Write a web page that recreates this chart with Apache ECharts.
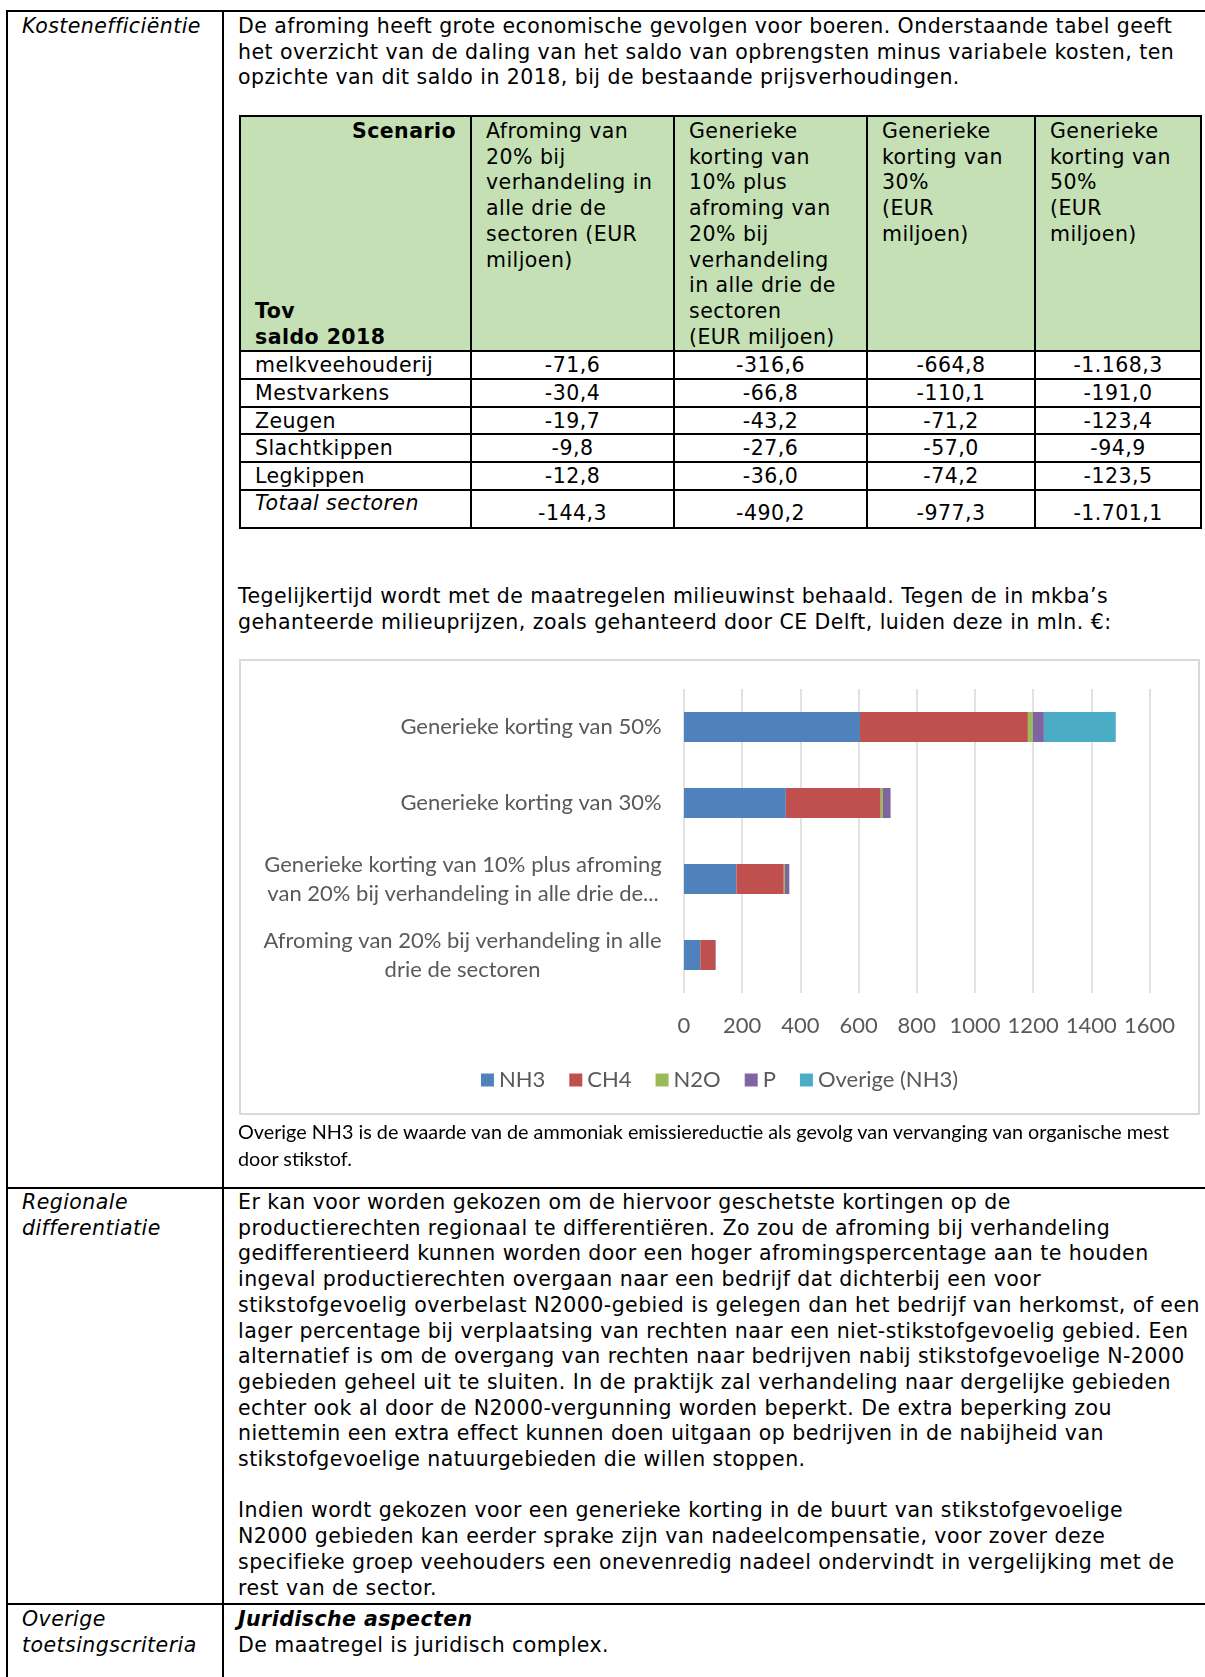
<!DOCTYPE html>
<html>
<head>
<meta charset="utf-8">
<script src="https://cdn.jsdelivr.net/npm/echarts@6/dist/echarts.min.js"></script>
<style>
  body { margin: 0; background: #fff; }
  #page { position: relative; width: 1205px; height: 1677px; overflow: hidden;
          font-family: "DejaVu Sans", Verdana, sans-serif; font-size: 20.5px; letter-spacing: 0.45px;
          line-height: 25.7px; color: #000; }
  .txt { position: absolute; white-space: pre; }
  .hl { position: absolute; height: 2px; background: #000; }
  .vl { position: absolute; width: 2px; background: #000; }
  #tbl { position: absolute; left: 239px; top: 115px; border-collapse: collapse; table-layout: fixed; }
  #tbl td { border: 2px solid #000; padding: 0 14px; vertical-align: top; white-space: pre; }
  #tbl tr.head td { background: #c5e0b4; height: 231px; padding-top: 2px; }
  #tbl tr.row td { height: 24.7px; line-height: 24.7px; vertical-align: middle; padding-top: 1px; }
  #tbl tr.tot td { height: 36px; }
  #tbl td.num { text-align: center; padding-left: 0; padding-right: 0; }
  #chartBox { position: absolute; left: 239px; top: 659px; width: 961px; height: 456px; letter-spacing: 0; }
  #chartFrame { position: absolute; left: 239px; top: 659px; width: 961px; height: 456px;
                box-sizing: border-box; border: 2px solid #d9d9d9; pointer-events: none; }
  .cap { position: absolute; white-space: pre; font-family: Lato, sans-serif; font-size: 19.8px;
         letter-spacing: 0; line-height: 27px; }
</style>
</head>
<body>
<div id="page">
  <div class="hl" style="left:6px; top:10px; width:1199px;"></div>
  <div class="hl" style="left:6px; top:1187px; width:1199px;"></div>
  <div class="hl" style="left:6px; top:1603px; width:1199px;"></div>
  <div class="vl" style="left:6px; top:10px; height:1667px;"></div>
  <div class="vl" style="left:222px; top:10px; height:1667px;"></div>

  <div class="txt" style="left:22px; top:14px; font-style:italic;">Kostenefficiëntie</div>
  <div class="txt" style="left:238px; top:14px;">De afroming heeft grote economische gevolgen voor boeren. Onderstaande tabel geeft
het overzicht van de daling van het saldo van opbrengsten minus variabele kosten, ten
opzichte van dit saldo in 2018, bij de bestaande prijsverhoudingen.</div>

  <table id="tbl">
    <colgroup><col style="width:231px"><col style="width:203px"><col style="width:193px"><col style="width:168px"><col style="width:166px"></colgroup>
    <tbody id="tbody"></tbody>
  </table>

  <div class="txt" style="left:238px; top:584px;">Tegelijkertijd wordt met de maatregelen milieuwinst behaald. Tegen de in mkba’s
gehanteerde milieuprijzen, zoals gehanteerd door CE Delft, luiden deze in mln. €:</div>

  <div id="chartBox"></div>
  <div id="chartFrame"></div>

  <div class="cap" style="left:238px; top:1118px;">Overige NH3 is de waarde van de ammoniak emissiereductie als gevolg van vervanging van organische mest
door stikstof.</div>

  <div class="txt" style="left:22px; top:1190px; font-style:italic;">Regionale
differentiatie</div>
  <div class="txt" style="left:238px; top:1190px;">Er kan voor worden gekozen om de hiervoor geschetste kortingen op de
productierechten regionaal te differentiëren. Zo zou de afroming bij verhandeling
gedifferentieerd kunnen worden door een hoger afromingspercentage aan te houden
ingeval productierechten overgaan naar een bedrijf dat dichterbij een voor
stikstofgevoelig overbelast N2000-gebied is gelegen dan het bedrijf van herkomst, of een
lager percentage bij verplaatsing van rechten naar een niet-stikstofgevoelig gebied. Een
alternatief is om de overgang van rechten naar bedrijven nabij stikstofgevoelige N-2000
gebieden geheel uit te sluiten. In de praktijk zal verhandeling naar dergelijke gebieden
echter ook al door de N2000-vergunning worden beperkt. De extra beperking zou
niettemin een extra effect kunnen doen uitgaan op bedrijven in de nabijheid van
stikstofgevoelige natuurgebieden die willen stoppen.

Indien wordt gekozen voor een generieke korting in de buurt van stikstofgevoelige
N2000 gebieden kan eerder sprake zijn van nadeelcompensatie, voor zover deze
specifieke groep veehouders een onevenredig nadeel ondervindt in vergelijking met de
rest van de sector.</div>

  <div class="txt" style="left:22px; top:1607px; font-style:italic;">Overige
toetsingscriteria</div>
  <div class="txt" style="left:238px; top:1607px;"><b><i>Juridische aspecten</i></b>
De maatregel is juridisch complex.</div>
</div>

<script>
// tabel: daling saldo tov 2018 (EUR miljoen)
const scenarioHeads = [
  'Afroming van\n20% bij\nverhandeling in\nalle drie de\nsectoren (EUR\nmiljoen)',
  'Generieke\nkorting van\n10% plus\nafroming van\n20% bij\nverhandeling\nin alle drie de\nsectoren\n(EUR miljoen)',
  'Generieke\nkorting van\n30%\n(EUR\nmiljoen)',
  'Generieke\nkorting van\n50%\n(EUR\nmiljoen)'
];
const sectors = ['melkveehouderij', 'Mestvarkens', 'Zeugen', 'Slachtkippen', 'Legkippen'];
const afroming20 = [-71.6, -30.4, -19.7, -9.8, -12.8];
const korting10plus = [-316.6, -66.8, -43.2, -27.6, -36.0];
const korting30 = [-664.8, -110.1, -71.2, -57.0, -74.2];
const korting50 = [-1168.3, -191.0, -123.4, -94.9, -123.5];
const totals = [-144.3, -490.2, -977.3, -1701.1];

// grafiek: milieuwinst in mln. €
const categories = [
  'Afroming van 20% bij verhandeling in alle\ndrie de sectoren',
  'Generieke korting van 10% plus afroming\nvan 20% bij verhandeling in alle drie de...',
  'Generieke korting van 30%',
  'Generieke korting van 50%'
];
const nh3 = [56, 180, 350, 605];
const ch4 = [52, 163, 326, 577];
const n2o = [0.5, 4, 8, 17];
const fosfaat = [1.5, 15, 26, 38];
const overigeNh3 = [0, 0, 0, 247];

function nl(v) {
  const s = Math.abs(v).toFixed(1).split('.');
  const whole = s[0].replace(/\B(?=(\d{3})+(?!\d))/g, '.');
  return (v < 0 ? '-' : '') + whole + ',' + s[1];
}

// tabel opbouwen
const cols = [afroming20, korting10plus, korting30, korting50];
let html = '<tr class="head"><td style="position:relative;">' +
  '<div style="text-align:right;font-weight:bold;">Scenario</div>' +
  '<div style="position:absolute;left:14px;bottom:0;font-weight:bold;">Tov\nsaldo 2018</div></td>';
scenarioHeads.forEach(h => { html += '<td>' + h + '</td>'; });
html += '</tr>';
sectors.forEach((s, i) => {
  html += '<tr class="row"><td>' + s + '</td>';
  cols.forEach(c => { html += '<td class="num">' + nl(c[i]) + '</td>'; });
  html += '</tr>';
});
html += '<tr class="tot"><td style="font-style:italic;">Totaal sectoren</td>';
totals.forEach(t => { html += '<td class="num" style="vertical-align:bottom;">' + nl(t) + '</td>'; });
html += '</tr>';
document.getElementById('tbody').innerHTML = html;

// labels met gecentreerde regels
const FS = 22;
const ctx = document.createElement('canvas').getContext('2d');
ctx.font = FS + 'px Lato';
const rich = {};
categories.forEach((c, i) => {
  const w = Math.max(...c.split('\n').map(l => Math.ceil(ctx.measureText(l).width)));
  rich['r' + i] = { width: w, align: 'center', fontSize: FS, fontFamily: 'Lato', color: '#595959', lineHeight: 29 };
});

let chart = echarts.init(document.getElementById('chartBox'));
const fontBase = { color: '#595959', fontSize: FS, fontFamily: 'Lato' };
chart.setOption({
  animation: false,
  backgroundColor: '#fff',
  grid: { left: 445, right: 50.5, top: 30, bottom: 122 },
  legend: {
    data: ['NH3', 'CH4', 'N2O', 'P', 'Overige (NH3)'],
    left: 'center',
    top: 405,
    icon: 'rect',
    itemWidth: 13,
    itemHeight: 13,
    itemGap: 24,
    textStyle: fontBase
  },
  xAxis: {
    type: 'value',
    min: 0,
    max: 1600,
    interval: 200,
    axisLine: { show: false },
    axisTick: { show: false },
    splitLine: { lineStyle: { color: '#d9d9d9', width: 1.5 } },
    axisLabel: Object.assign({ margin: 22, formatter: v => String(v) }, fontBase)
  },
  yAxis: {
    type: 'category',
    data: categories,
    axisLine: { show: false },
    axisTick: { show: false },
    axisLabel: {
      margin: 22,
      formatter: (val, idx) => val.split('\n').map(l => '{r' + idx + '|' + l + '}').join('\n'),
      rich: rich
    }
  },
  series: [
    { name: 'NH3', type: 'bar', stack: 'milieu', barWidth: 30, data: nh3, itemStyle: { color: '#4f81bd' } },
    { name: 'CH4', type: 'bar', stack: 'milieu', barWidth: 30, data: ch4, itemStyle: { color: '#c0504d' } },
    { name: 'N2O', type: 'bar', stack: 'milieu', barWidth: 30, data: n2o, itemStyle: { color: '#9bbb59' } },
    { name: 'P', type: 'bar', stack: 'milieu', barWidth: 30, data: fosfaat, itemStyle: { color: '#8064a2' } },
    { name: 'Overige (NH3)', type: 'bar', stack: 'milieu', barWidth: 30, data: overigeNh3, itemStyle: { color: '#4bacc6' } }
  ]
});
window.addEventListener('resize', function () {
  chart.resize();
});
</script>
</body>
</html>
